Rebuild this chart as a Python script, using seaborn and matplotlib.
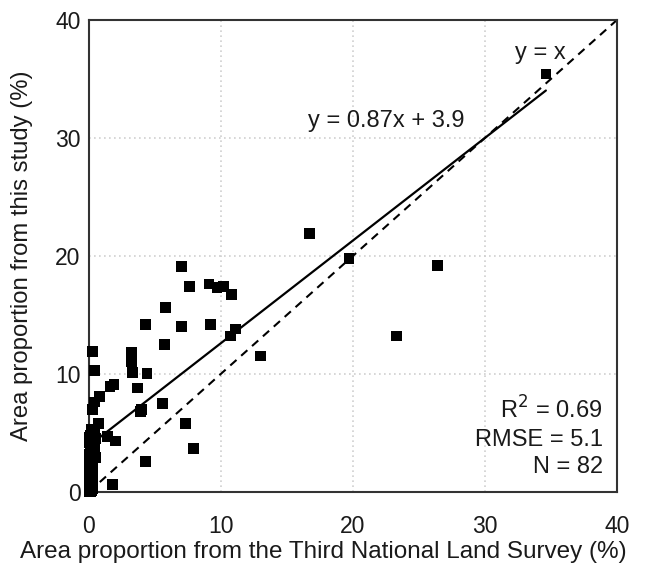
import numpy as np
import pandas as pd
import matplotlib
matplotlib.use("Agg")
import matplotlib.pyplot as plt
import seaborn as sns

# ==========================================
# DATA
# ==========================================
survey_x = [34.6, 16.7, 19.7, 26.4, 23.3, 13.0, 7.0, 7.6, 9.1, 9.7,
            10.2, 10.8, 5.8, 4.3, 7.0, 9.2, 11.1, 10.7, 5.7, 3.2,
            3.2, 3.3, 4.4, 3.7, 1.9, 1.6, 5.6, 4.0, 3.9, 7.3,
            7.9, 4.3, 1.8, 2.0, 1.4, 0.3, 0.4, 0.8, 0.4, 0.3,
            0.75,
            # dense cluster near the origin
            0.2, 0.4, 0.1, 0.5, 0.3, 0.0, 0.2, 0.4, 0.1, 0.3,
            0.0, 0.2, 0.5, 0.1, 0.3, 0.0, 0.2, 0.1, 0.3, 0.0,
            0.2, 0.1, 0.0, 0.3, 0.1, 0.2, 0.0, 0.1, 0.2, 0.0,
            0.1, 0.3, 0.0, 0.2, 0.1, 0.0, 0.1, 0.2, 0.0, 0.1,
            0.0]
study_y = [35.4, 21.9, 19.8, 19.2, 13.2, 11.5, 19.1, 17.4, 17.6, 17.3,
           17.4, 16.7, 15.6, 14.2, 14.0, 14.2, 13.8, 13.2, 12.5, 11.8,
           11.0, 10.1, 10.0, 8.8, 9.1, 8.9, 7.5, 7.0, 6.8, 5.8,
           3.7, 2.6, 0.6, 4.3, 4.7, 11.9, 10.3, 8.1, 7.6, 7.0,
           5.8,
           5.3, 5.0, 4.8, 4.5, 4.4, 4.2, 4.0, 3.8, 3.6, 3.4,
           3.2, 3.0, 2.9, 2.7, 2.5, 2.3, 2.1, 2.0, 1.8, 1.6,
           1.5, 1.3, 1.2, 1.0, 0.9, 0.8, 0.7, 0.6, 0.5, 0.4,
           0.3, 0.3, 0.2, 0.1, 0.1, 0.0, 0.0, 0.4, 1.1, 2.6,
           4.6]

slope = 0.87
intercept = 3.9
fit_x = [0.0, 34.6]
identity_xy = [0.0, 40.0]
ticks = [0, 10, 20, 30, 40]

df = pd.DataFrame({"survey": survey_x, "study": study_y})
fit = pd.DataFrame({"x": fit_x, "y": [slope * v + intercept for v in fit_x]})

# ==========================================
# STYLE
# ==========================================
sns.set_theme(style="white")
plt.rcParams["font.family"] = ["Liberation Sans", "DejaVu Sans"]
text_color = "#1a1a1a"

fig = plt.figure(figsize=(6.49, 5.64), dpi=100)
ax = fig.add_axes([0.137, 0.128, 0.814, 0.837])

# grid lines at 10/20/30 only
for v in ticks[1:-1]:
    ax.axvline(v, color="#cfcfcf", linestyle=(0, (1, 2)), linewidth=1.2, zorder=0)
    ax.axhline(v, color="#cfcfcf", linestyle=(0, (1, 2)), linewidth=1.2, zorder=0)

ax.plot(identity_xy, identity_xy, color="black", linestyle=(0, (4, 3)),
        linewidth=1.5, zorder=2)
sns.lineplot(data=fit, x="x", y="y", color="black", linewidth=1.6, ax=ax, zorder=2)
sns.scatterplot(data=df, x="survey", y="study", marker="s", s=60, color="black",
                edgecolor="none", ax=ax, zorder=3, clip_on=False)

ax.set_xlim(0, 40)
ax.set_ylim(0, 40)
ax.set_xticks(ticks)
ax.set_yticks(ticks)
ax.tick_params(axis="both", labelsize=16.5, colors=text_color, length=0)
ax.tick_params(axis="x", pad=17)
ax.tick_params(axis="y", pad=6)
for s in ax.spines.values():
    s.set_color("#333333")
    s.set_linewidth(1.5)

ax.set_xlabel("Area proportion from the Third National Land Survey (%)",
              fontsize=17.5, color=text_color)
ax.set_ylabel("Area proportion from this study (%)",
              fontsize=17.2, color=text_color)
ax.xaxis.set_label_coords(0.443, -0.105)
ax.yaxis.set_label_coords(-0.105, 0.5)

ax.text(22.5, 31.4, "y = 0.87x + 3.9", fontsize=17, ha="center", va="center",
        color=text_color)
ax.text(34.2, 37.2, "y = x", fontsize=17, ha="center", va="center", color=text_color)
ax.text(38.9, 6.95, "R$^2$ = 0.69", fontsize=17, ha="right", va="center", color=text_color)
ax.text(38.9, 4.4, "RMSE = 5.1", fontsize=17, ha="right", va="center", color=text_color)
ax.text(38.9, 2.1, "N = 82", fontsize=17, ha="right", va="center", color=text_color)

fig.savefig("out.png", dpi=100)
